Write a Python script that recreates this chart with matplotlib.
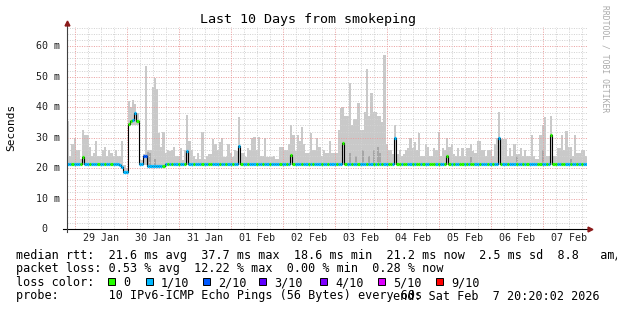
import numpy as np
import matplotlib
matplotlib.use("Agg")
import matplotlib.pyplot as plt
from matplotlib.collections import LineCollection
from matplotlib.patches import Rectangle
import matplotlib.transforms as mtrans

# graph covers 10 days, one value per hour, starting Jan 28 20:20
title = "Last 10 Days from smokeping"
day_labels = ["29 Jan", "30 Jan", "31 Jan", "01 Feb", "02 Feb",
              "03 Feb", "04 Feb", "05 Feb", "06 Feb", "07 Feb"]
first_midnight = 3 + 40 / 60   # hours from start to Jan 29 00:00
y_ticks = [0, 10, 20, 30, 40, 50, 60]
y_tick_labels = [" 0", "10 m", "20 m", "30 m", "40 m", "50 m", "60 m"]

# median rtt (ms), one row per day of samples
median_rtt = [
    21.3, 21.3, 21.2, 21.3, 21.3, 21.3, 21.3, 23.5, 21.3, 21.3, 21.3, 21.3,
    21.2, 21.3, 21.3, 21.3, 21.3, 21.3, 21.3, 21.3, 21.3, 21.3, 21.3, 21.3,
    21.0, 20.2, 18.8, 18.7, 34.6, 35.5, 35.8, 38.0, 35.4, 21.3, 21.3, 24.0,
    24.0, 20.7, 20.7, 20.7, 20.7, 20.7, 20.7, 20.7, 20.8, 21.3, 21.3, 21.3,
    21.3, 21.3, 21.3, 21.3, 21.3, 21.3, 21.3, 25.5, 21.3, 21.3, 21.3, 21.3,
    21.3, 21.3, 21.3, 21.3, 21.3, 21.3, 21.3, 21.3, 21.3, 21.3, 21.3, 21.3,
    21.3, 21.3, 21.3, 21.3, 21.3, 21.3, 21.3, 27.2, 21.3, 21.3, 21.3, 21.3,
    21.3, 21.3, 21.3, 21.3, 21.3, 21.3, 21.3, 21.3, 21.3, 21.3, 21.3, 21.3,
    21.3, 21.3, 21.3, 21.3, 21.3, 21.3, 21.3, 24.4, 21.3, 21.3, 21.3, 21.3,
    21.3, 21.3, 21.3, 21.3, 21.3, 21.3, 21.3, 21.3, 21.3, 21.3, 21.3, 21.3,
    21.3, 21.3, 21.3, 21.3, 21.3, 21.3, 21.3, 28.3, 21.3, 21.3, 21.3, 21.3,
    21.3, 21.3, 21.3, 21.3, 21.3, 21.3, 21.3, 21.3, 21.3, 21.3, 21.3, 21.3,
    21.3, 21.3, 21.3, 21.3, 21.3, 21.3, 21.3, 29.9, 21.3, 21.3, 21.3, 21.3,
    21.3, 21.3, 21.3, 21.3, 21.3, 21.3, 21.3, 21.3, 21.3, 21.3, 21.3, 21.3,
    21.3, 21.3, 21.3, 21.3, 21.3, 21.3, 21.3, 23.9, 21.3, 21.3, 21.3, 21.3,
    21.3, 21.3, 21.3, 21.3, 21.3, 21.3, 21.3, 21.3, 21.3, 21.3, 21.3, 21.3,
    21.3, 21.3, 21.3, 21.3, 21.3, 21.3, 21.3, 29.9, 21.3, 21.3, 21.3, 21.3,
    21.3, 21.3, 21.3, 21.3, 21.3, 21.3, 21.3, 21.3, 21.3, 21.3, 21.3, 21.3,
    21.3, 21.3, 21.3, 21.3, 21.3, 21.3, 21.3, 31.0, 21.3, 21.3, 21.3, 21.3,
    21.3, 21.3, 21.3, 21.3, 21.3, 21.3, 21.3, 21.3, 21.3, 21.3, 21.3, 21.3,
]

# lost pings out of 10 for each sample
loss = [
    1, 1, 0, 1, 1, 1, 0, 0, 1, 1, 0, 1, 1, 1, 0, 1, 1, 0, 1, 1, 0, 1, 1, 1,
    1, 1, 1, 1, 0, 0, 1, 1, 0, 1, 1, 2, 2, 1, 1, 1, 1, 1, 1, 1, 0, 1, 0, 1,
    0, 1, 1, 0, 1, 1, 0, 1, 1, 1, 0, 1, 1, 1, 0, 1, 1, 0, 0, 1, 1, 1, 0, 1,
    1, 0, 1, 1, 0, 1, 1, 1, 0, 1, 1, 0, 1, 1, 1, 0, 1, 1, 0, 1, 1, 0, 1, 1,
    1, 1, 0, 1, 1, 0, 1, 0, 0, 1, 1, 1, 0, 1, 1, 0, 1, 0, 1, 1, 1, 0, 1, 1,
    0, 1, 1, 1, 0, 1, 1, 0, 0, 1, 1, 0, 1, 1, 0, 1, 1, 1, 0, 1, 1, 0, 1, 0,
    1, 0, 1, 1, 0, 0, 1, 1, 0, 0, 1, 0, 0, 1, 1, 0, 1, 0, 0, 1, 0, 1, 1, 0,
    0, 0, 1, 0, 1, 1, 0, 0, 0, 1, 0, 1, 1, 0, 0, 1, 0, 1, 0, 0, 1, 1, 0, 1,
    1, 1, 0, 1, 0, 1, 1, 1, 0, 1, 1, 0, 1, 1, 1, 0, 1, 1, 0, 1, 0, 1, 1, 1,
    1, 0, 0, 1, 1, 0, 1, 0, 0, 0, 1, 1, 0, 0, 1, 1, 0, 1, 1, 0, 1, 0, 1, 1,
]

# smoke: spread of the 10 pings per sample (ms)
smoke_hi = [
    35.5, 24, 28, 30, 26, 26, 23, 32.6, 31, 31, 27, 24, 25, 29, 24, 24, 26, 27, 24, 26, 25, 24, 26, 24,
    24, 29, 21, 20, 42, 40, 42.5, 41, 38, 22.5, 22.5, 24.5, 53.5, 26, 26, 46.5, 49.5, 46, 31.5, 27, 31.7, 25, 26, 25.5,
    26, 27, 24, 24, 26.5, 22.8, 26, 37.5, 29, 26, 24, 23, 25, 23, 32, 23, 24, 24.5, 24.5, 29.5, 28, 26, 28.5, 30,
    23.5, 23.5, 28, 25, 23.5, 26, 25.5, 36.8, 25, 25, 23.5, 26.5, 26, 30, 30.3, 26, 30.3, 24, 24, 30, 23.5, 23.5, 23.7, 24,
    23, 23, 27, 27, 26, 26, 28, 34.2, 31, 25.5, 31, 29, 33.5, 28, 25, 25, 31.5, 26, 26, 30, 27, 24, 26, 25,
    25, 29, 25, 25, 25, 32.6, 39.8, 40, 37, 37, 48, 34, 36, 36, 41.5, 32.6, 32.6, 38.5, 52.5, 37, 44.8, 38.5, 38.5, 37,
    37, 35, 57, 28, 26, 26, 24.5, 34, 24.5, 26, 24, 24.5, 26, 26.5, 30, 26.5, 28.5, 26, 31.5, 24, 24, 28, 27, 24,
    24, 26.5, 26, 32, 24, 26.5, 26, 30, 27, 28, 24.5, 24, 26.5, 24, 26.5, 24, 26.5, 26.5, 28, 25.5, 25, 29, 29, 26,
    26, 24, 26, 26, 24, 28, 30, 38.4, 29.5, 29.5, 29.5, 24, 26.5, 24, 28, 24.5, 24.5, 26.5, 24, 26, 24, 24, 31, 24,
    23, 23, 31, 34, 36.9, 24, 24, 37, 24, 24, 26.5, 26.5, 31, 26, 32.3, 27, 27, 24, 31, 25, 25, 26, 26, 24,
]
smoke_lo = [
    20.9, 20.9, 20.9, 20.9, 20.9, 20.9, 20.9, 20.9, 20.9, 20.9, 20.9, 20.9,
    20.9, 20.9, 20.9, 20.9, 20.9, 20.9, 20.9, 20.9, 20.9, 20.9, 20.9, 20.9,
    20.6, 19.8, 18.3, 18.2, 34.0, 34.0, 34.0, 34.0, 34.0, 20.9, 20.9, 20.9,
    20.9, 20.3, 20.3, 20.3, 20.3, 20.3, 20.3, 20.3, 20.4, 20.9, 20.9, 20.9,
    20.9, 20.9, 20.9, 20.9, 20.9, 20.9, 20.9, 20.9, 20.9, 20.9, 20.9, 20.9,
    20.9, 20.9, 20.9, 20.9, 20.9, 20.9, 20.9, 20.9, 20.9, 20.9, 20.9, 20.9,
    20.9, 20.9, 20.9, 20.9, 20.9, 20.9, 20.9, 20.9, 20.9, 20.9, 20.9, 20.9,
    20.9, 20.9, 20.9, 20.9, 20.9, 20.9, 20.9, 20.9, 20.9, 20.9, 20.9, 20.9,
    20.9, 20.9, 20.9, 20.9, 20.9, 20.9, 20.9, 20.9, 20.9, 20.9, 20.9, 20.9,
    20.9, 20.9, 20.9, 20.9, 20.9, 20.9, 20.9, 20.9, 20.9, 20.9, 20.9, 20.9,
    20.9, 20.9, 20.9, 20.9, 20.9, 20.9, 20.9, 20.9, 20.9, 20.9, 20.9, 20.9,
    20.9, 20.9, 20.9, 20.9, 20.9, 20.9, 20.9, 20.9, 20.9, 20.9, 20.9, 20.9,
    20.9, 20.9, 20.9, 20.9, 20.9, 20.9, 20.9, 20.9, 20.9, 20.9, 20.9, 20.9,
    20.9, 20.9, 20.9, 20.9, 20.9, 20.9, 20.9, 20.9, 20.9, 20.9, 20.9, 20.9,
    20.9, 20.9, 20.9, 20.9, 20.9, 20.9, 20.9, 20.9, 20.9, 20.9, 20.9, 20.9,
    20.9, 20.9, 20.9, 20.9, 20.9, 20.9, 20.9, 20.9, 20.9, 20.9, 20.9, 20.9,
    20.9, 20.9, 20.9, 20.9, 20.9, 20.9, 20.9, 20.9, 20.9, 20.9, 20.9, 20.9,
    20.9, 20.9, 20.9, 20.9, 20.9, 20.9, 20.9, 20.9, 20.9, 20.9, 20.9, 20.9,
    20.9, 20.9, 20.9, 20.9, 20.9, 20.9, 20.9, 20.9, 20.9, 20.9, 20.9, 20.9,
    20.9, 20.9, 20.9, 20.9, 20.9, 20.9, 20.9, 20.9, 20.9, 20.9, 20.9, 20.9,
]
# denser parts of the smoke
dark_hours = [37, 38, 40, 130, 133, 136, 139, 141, 143, 144, 186, 207, 219, 232]
dark_tops = [25.3, 25.0, 23.0, 25.0, 24.0, 26.0, 24.0, 26.0, 27.0, 25.0, 23.5, 24.0, 26.0, 23.0]

loss_names = ["0", "1/10", "2/10", "3/10", "4/10", "5/10", "9/10"]
loss_colors = ["#26ff00", "#00b8ff", "#0059ff", "#5e00ff", "#7e00ff", "#dd00ff", "#ff0000"]

stats_rtt = "median rtt:  21.6 ms avg  37.7 ms max  18.6 ms min  21.2 ms now  2.5 ms sd  8.8   am/s"
stats_loss = "packet loss: 0.53 % avg  12.22 % max  0.00 % min  0.28 % now"
probe_text = "probe:       10 IPv6-ICMP Echo Pings (56 Bytes) every 60s"
end_text = "end: Sat Feb  7 20:20:02 2026"

W, H = 617, 310
MONO = "DejaVu Sans Mono"

fig = plt.figure(figsize=(W / 100, H / 100), dpi=100)
fig.patch.set_facecolor("white")
ax = fig.add_axes([67 / W, (H - 229) / H, 520 / W, 202 / H])
ax.set_xlim(0, 240)
ax.set_ylim(0, 66.3)
for s in ax.spines.values():
    s.set_visible(False)
ax.set_xticks([])
ax.set_yticks([])

n = len(median_rtt)
edges = np.arange(n + 1)
hi = np.append(smoke_hi, smoke_hi[-1])
lo = np.append(smoke_lo, smoke_lo[-1])
ax.fill_between(edges, lo, hi, step="post", color="#c9c9c9", lw=0, zorder=1)
ax.bar(dark_hours, np.array(dark_tops) - 20.9, bottom=20.9, width=1, align="edge",
       color="#a6a6a6", lw=0, zorder=1.5)

# grid
dash = dict(lw=0.72, dashes=(1, 1.4), zorder=2)
for v in np.arange(2, 66.3, 2):
    if v % 10 == 0:
        ax.axhline(v, color="#eaa0a0", **dash)
    else:
        ax.axhline(v, color="#d2d2d2", **dash)
t = first_midnight
k = 0
while t < 240:
    ax.axvline(t, color="#eaa0a0" if k % 4 == 0 else "#d2d2d2", **dash)
    t += 6
    k += 1

# median line: thin black steps, thick loss coloured pieces
med = np.append(median_rtt, median_rtt[-1])
ax.step(edges, med, where="post", color="black", lw=0.8, zorder=3)
segs = [[(i, median_rtt[i]), (i + 1, median_rtt[i])] for i in range(n)]
cols = [loss_colors[l] for l in loss]
ax.add_collection(LineCollection(segs, colors=cols, linewidths=2.3, capstyle="butt", zorder=4))

# axes with arrows
ax.plot([-2, 241], [0, 0], color="black", lw=0.8, clip_on=False, zorder=5)
ax.plot([0, 0], [-1, 67.2], color="#404040", lw=0.8, clip_on=False, zorder=5)
ax.plot(241.5, 0, marker=">", color="#8b1a1a", ms=3.5, clip_on=False, zorder=6)
ax.plot(0, 67.6, marker="^", color="#8b1a1a", ms=3.5, clip_on=False, zorder=6)

# tick labels
ty = mtrans.blended_transform_factory(fig.transFigure, ax.transData)
for v, lab in zip(y_ticks, y_tick_labels):
    fig.text(36 / W, v, lab, transform=ty, ha="left", va="center",
             family=MONO, size=7.2, color="#202020")
tx = mtrans.blended_transform_factory(ax.transData, fig.transFigure)
for k, lab in enumerate(day_labels):
    ax.text(first_midnight + 12 + 24 * k, (H - 238) / H, lab, transform=tx,
            ha="center", va="center", family=MONO, size=7.2, color="#202020")

fig.text(308 / W, 1 - 19 / H, title, ha="center", va="center", family=MONO, size=9.6)
fig.text(11 / W, 1 - 127 / H, "Seconds", rotation=90, ha="center", va="center",
         family=MONO, size=8)
fig.text(605 / W, 1 - 59 / H, "RRDTOOL / TOBI OETIKER", rotation=270, ha="center",
         va="center", family=MONO, size=5.8, color="#aaaaaa")

# legend
fs = 8.5
fig.text(16 / W, 1 - 255 / H, stats_rtt, va="center", family=MONO, size=fs)
fig.text(16 / W, 1 - 268.5 / H, stats_loss, va="center", family=MONO, size=fs)
fig.text(16 / W, 1 - 282.5 / H, "loss color:", va="center", family=MONO, size=fs)
box_x = [108, 146, 203, 259, 320, 378, 436]
for bx, name, c in zip(box_x, loss_names, loss_colors):
    fig.patches.append(Rectangle((bx / W, 1 - 285 / H), 7.3 / W, 7.5 / H,
                                 transform=fig.transFigure, facecolor=c,
                                 edgecolor="black", lw=0.7))
    fig.text((bx + 15) / W, 1 - 282.5 / H, name, va="center", family=MONO, size=fs)
fig.text(16 / W, 1 - 296 / H, probe_text, va="center", family=MONO, size=fs)
fig.text(600 / W, 1 - 296 / H, end_text, ha="right", va="center", family=MONO, size=fs)

fig.savefig("out.png", dpi=100)
